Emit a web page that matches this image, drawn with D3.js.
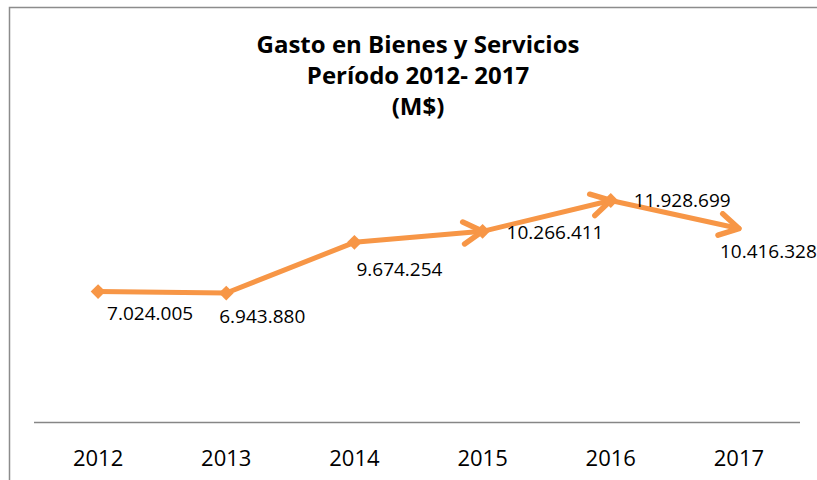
<!DOCTYPE html>
<html>
<head>
<meta charset="utf-8">
<script src="https://cdn.jsdelivr.net/npm/d3@7"></script>
<style>
  body { margin: 0; background: #fff; }
  text { font-family: "Open Sans", "Liberation Sans", sans-serif; fill: #000; }
</style>
</head>
<body>
<div id="chart"></div>
<script>
// data
var years = ["2012", "2013", "2014", "2015", "2016", "2017"];
var gasto = [7024005, 6943880, 9674254, 10266411, 11928699, 10416328];
var valueLabels = ["7.024.005", "6.943.880", "9.674.254", "10.266.411", "11.928.699", "10.416.328"];
var titleLines = ["Gasto en Bienes y Servicios", "Período 2012- 2017", "(M$)"];
// which segments end with an arrow head
var segArrow = [false, false, true, true, true];
// label offsets from point (layout)
var labelDx = [9, -7, 2, 24, 23, -19];
var labelDy = [28, 30, 34, 8, 7, 29];

var svgWidth = 817;
var svgHeight = 480;
var orange = "#F79646";

var svg = d3.select("#chart")
    .append("svg")
    .attr("width", svgWidth)
    .attr("height", svgHeight);

// chart frame (only left and top edges visible)
svg.append("path")
    .attr("d", "M9.5,490 L9.5,7.5 L830,7.5")
    .attr("fill", "none")
    .attr("stroke", "#8c8c8c")
    .attr("stroke-width", 1.5);

// title
svg.append("g").selectAll("text")
    .data(titleLines)
    .enter()
    .append("text")
    .attr("x", 418)
    .attr("y", (d, i) => 53 + i * 31)
    .attr("text-anchor", "middle")
    .style("font-size", "24px")
    .style("font-weight", "bold")
    .text(d => d);

var xScale = d3.scaleBand()
    .domain(years)
    .range([34, 803]);
var yScale = d3.scaleLinear()
    .domain([0, 14000000])
    .range([422, 162]);

var px = (d, i) => xScale(years[i]) + xScale.bandwidth() / 2;
var py = d => yScale(d);

// x axis
var xAxis = svg.append("g")
    .attr("transform", "translate(0,422)")
    .call(d3.axisBottom(xScale).tickSize(0).tickPadding(28));
xAxis.select(".domain")
    .attr("d", "M34,0.5H800")
    .attr("stroke", "#868686")
    .attr("stroke-width", 1.5);
xAxis.selectAll("text")
    .style("font-size", "22px")
    .style("font-family", "'Open Sans', sans-serif")
    .attr("fill", "#000");

// arrow head marker
svg.append("defs").append("marker")
    .attr("id", "arrow")
    .attr("markerUnits", "userSpaceOnUse")
    .attr("viewBox", "-24 -14 28 28")
    .attr("markerWidth", 28)
    .attr("markerHeight", 28)
    .attr("refX", 0)
    .attr("refY", 0)
    .attr("orient", "auto")
    .append("path")
    .attr("d", "M-19,-11 L0,0 L-19,11")
    .attr("fill", "none")
    .attr("stroke", orange)
    .attr("stroke-width", 5.5)
    .attr("stroke-linecap", "round")
    .attr("stroke-linejoin", "round");

// line segments
var segs = gasto.slice(0, -1).map((d, i) => ({
    x1: px(d, i), y1: py(d), x2: px(gasto[i + 1], i + 1), y2: py(gasto[i + 1]), arrow: segArrow[i]
}));
svg.append("g").selectAll("line")
    .data(segs)
    .enter()
    .append("line")
    .attr("x1", d => d.x1)
    .attr("y1", d => d.y1)
    .attr("x2", d => d.x2)
    .attr("y2", d => d.y2)
    .attr("stroke", orange)
    .attr("stroke-width", 5)
    .attr("stroke-linecap", "round")
    .attr("marker-end", d => d.arrow ? "url(#arrow)" : null);

// diamond markers (not on the last point)
svg.append("g").selectAll("path")
    .data(gasto.slice(0, -1))
    .enter()
    .append("path")
    .attr("d", d3.symbol().type(d3.symbolSquare).size(110))
    .attr("transform", (d, i) => `translate(${px(d, i)},${py(d)}) rotate(45)`)
    .attr("fill", orange);

// value labels
svg.append("g").selectAll("text")
    .data(gasto)
    .enter()
    .append("text")
    .attr("x", (d, i) => px(d, i) + labelDx[i])
    .attr("y", (d, i) => py(d) + labelDy[i])
    .style("font-size", "19px")
    .text((d, i) => valueLabels[i]);
</script>
</body>
</html>
